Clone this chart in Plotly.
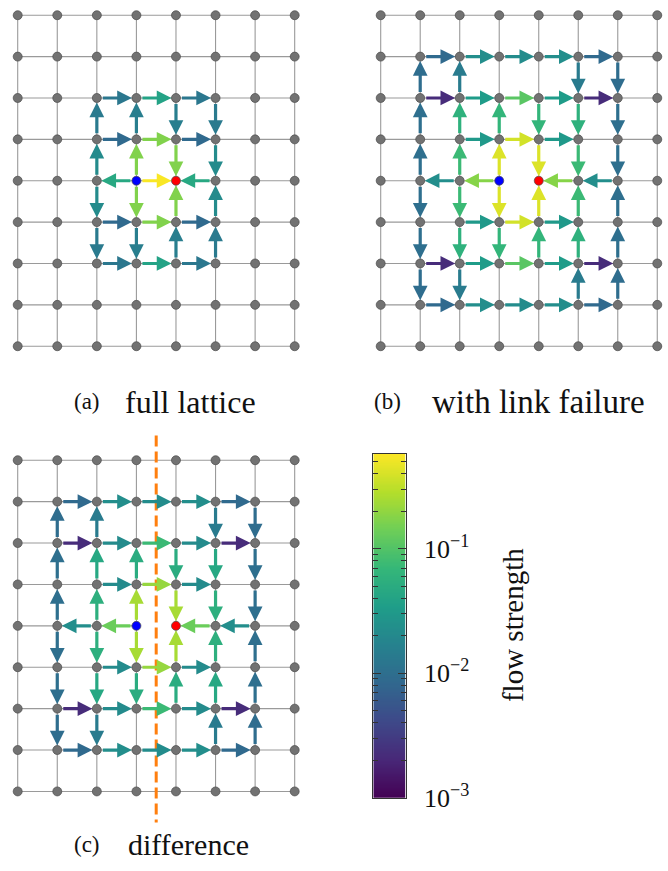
import numpy as np
import plotly.graph_objects as go
from plotly.colors import sample_colorscale

W, H = 668, 871

# ---------------- data ----------------
N_COLS, N_ROWS = 8, 9
SOURCE = (3, 4)          # (column, row from top)
SINK = (4, 4)
FAILED_LINK = (3, 4, 4, 4)
CBAR_MIN, CBAR_MAX = 1e-3, 0.58

# directed edges (c_from, r_from, c_to, r_to) and their flow strengths
edges_a = [
    (2, 2, 3, 2), (3, 2, 4, 2), (4, 2, 5, 2),
    (2, 3, 2, 2), (3, 3, 3, 2), (4, 2, 4, 3), (5, 2, 5, 3),
    (2, 3, 3, 3), (3, 3, 4, 3), (4, 3, 5, 3),
    (2, 4, 2, 3), (3, 4, 3, 3), (4, 3, 4, 4), (5, 3, 5, 4),
    (3, 4, 2, 4), (3, 4, 4, 4), (5, 4, 4, 4),
    (2, 4, 2, 5), (3, 4, 3, 5), (4, 5, 4, 4), (5, 5, 5, 4),
    (2, 5, 3, 5), (3, 5, 4, 5), (4, 5, 5, 5),
    (2, 5, 2, 6), (3, 5, 3, 6), (4, 6, 4, 5), (5, 6, 5, 5),
    (2, 6, 3, 6), (3, 6, 4, 6), (4, 6, 5, 6),
]
flow_a = [
    0.0125, 0.040, 0.0125,
    0.0135, 0.015, 0.015, 0.0135,
    0.0087, 0.17, 0.0087,
    0.021, 0.17, 0.17, 0.021,
    0.046, 0.56, 0.046,
    0.021, 0.17, 0.17, 0.021,
    0.0087, 0.17, 0.0087,
    0.0135, 0.015, 0.015, 0.0135,
    0.0125, 0.040, 0.0125,
]

edges_bc = [
    (1, 1, 2, 1), (2, 1, 3, 1), (3, 1, 4, 1), (4, 1, 5, 1), (5, 1, 6, 1),
    (1, 2, 1, 1), (2, 2, 2, 1), (5, 1, 5, 2), (6, 1, 6, 2),
    (1, 2, 2, 2), (2, 2, 3, 2), (3, 2, 4, 2), (4, 2, 5, 2), (5, 2, 6, 2),
    (1, 3, 1, 2), (2, 3, 2, 2), (3, 3, 3, 2), (4, 2, 4, 3), (5, 2, 5, 3), (6, 2, 6, 3),
    (2, 3, 3, 3), (3, 3, 4, 3), (4, 3, 5, 3),
    (1, 4, 1, 3), (2, 4, 2, 3), (3, 4, 3, 3), (4, 3, 4, 4), (5, 3, 5, 4), (6, 3, 6, 4),
    (2, 4, 1, 4), (3, 4, 2, 4), (5, 4, 4, 4), (6, 4, 5, 4),
    (1, 4, 1, 5), (2, 4, 2, 5), (3, 4, 3, 5), (4, 5, 4, 4), (5, 5, 5, 4), (6, 5, 6, 4),
    (2, 5, 3, 5), (3, 5, 4, 5), (4, 5, 5, 5),
    (1, 5, 1, 6), (2, 5, 2, 6), (3, 5, 3, 6), (4, 6, 4, 5), (5, 6, 5, 5), (6, 6, 6, 5),
    (1, 6, 2, 6), (2, 6, 3, 6), (3, 6, 4, 6), (4, 6, 5, 6), (5, 6, 6, 6),
    (1, 6, 1, 7), (2, 6, 2, 7), (5, 7, 5, 6), (6, 7, 6, 6),
    (1, 7, 2, 7), (2, 7, 3, 7), (3, 7, 4, 7), (4, 7, 5, 7), (5, 7, 6, 7),
]
flow_b = [
    0.0088, 0.023, 0.022, 0.023, 0.0088,
    0.0095, 0.014, 0.014, 0.0095,
    0.0022, 0.033, 0.11, 0.033, 0.0022,
    0.010, 0.058, 0.066, 0.066, 0.058, 0.010,
    0.030, 0.38, 0.030,
    0.010, 0.075, 0.42, 0.42, 0.075, 0.010,
    0.023, 0.18, 0.18, 0.023,
    0.010, 0.075, 0.42, 0.42, 0.075, 0.010,
    0.030, 0.38, 0.030,
    0.010, 0.058, 0.066, 0.066, 0.058, 0.010,
    0.0022, 0.033, 0.11, 0.033, 0.0022,
    0.0095, 0.014, 0.014, 0.0095,
    0.0088, 0.023, 0.022, 0.023, 0.0088,
]
flow_c = [
    0.0088, 0.023, 0.022, 0.023, 0.0088,
    0.0095, 0.014, 0.014, 0.0095,
    0.0022, 0.021, 0.075, 0.021, 0.0022,
    0.010, 0.045, 0.051, 0.051, 0.045, 0.010,
    0.021, 0.21, 0.021,
    0.010, 0.055, 0.25, 0.25, 0.055, 0.010,
    0.023, 0.135, 0.135, 0.023,
    0.010, 0.055, 0.25, 0.25, 0.055, 0.010,
    0.021, 0.21, 0.021,
    0.010, 0.045, 0.051, 0.051, 0.045, 0.010,
    0.0022, 0.021, 0.075, 0.021, 0.0022,
    0.0095, 0.014, 0.014, 0.0095,
    0.0088, 0.023, 0.022, 0.023, 0.0088,
]

captions = [("(a)", "full lattice"), ("(b)", "with link failure"), ("(c)", "difference")]
cbar_title = "flow strength"

# ---------------- styling / layout ----------------
SERIF = "Liberation Serif, Times New Roman, serif"
GRID_COLOR = "#9a9a9a"
NODE_COLOR = "#727272"
NODE_EDGE = "#4a4a4a"
NODE_SIZE = 9
L = np.log10(CBAR_MAX) - np.log10(CBAR_MIN)


def flow_color(v):
    t = (np.log10(v) - np.log10(CBAR_MIN)) / L
    t = float(min(max(t, 0.0), 1.0))
    return sample_colorscale("Viridis", [t])[0]


def px_axis_x(p0, p1, col0_px, spacing):
    dom = [p0 / W, p1 / W]
    rng = [(p0 - col0_px) / spacing, (p1 - col0_px) / spacing]
    return dom, rng


def px_axis_y(p0, p1, row0_px, spacing):
    # p0 top pixel, p1 bottom pixel; rows increase downward
    dom = [1 - p1 / H, 1 - p0 / H]
    rng = [(p1 - row0_px) / spacing, (p0 - row0_px) / spacing]
    return dom, rng


panels = [
    dict(ax="", xbox=(0, 330), col0=17.7, dx=39.57, ybox=(0, 380), row0=15.5, dy=42.1,
         edges=edges_a, flows=flow_a, failed=False, cut=False),
    dict(ax="2", xbox=(340, 668), col0=380.7, dx=39.51, ybox=(0, 380), row0=15.5, dy=42.1,
         edges=edges_bc, flows=flow_b, failed=True, cut=False),
    dict(ax="3", xbox=(0, 330), col0=17.7, dx=39.57, ybox=(440, 871), row0=468.3, dy=42.125,
         edges=edges_bc, flows=flow_c, failed=True, cut=True),
]

fig = go.Figure()
annotations = []
shapes = []
layout_axes = {}

for p in panels:
    xa = "x" + p["ax"]
    ya = "y" + p["ax"]
    xdom, xrng = px_axis_x(*p["xbox"], p["col0"], p["dx"])
    ydom, yrng = px_axis_y(*p["ybox"], p["row0"], p["dy"])
    axkw = dict(visible=False, showgrid=False, zeroline=False, fixedrange=True)
    layout_axes["xaxis" + p["ax"]] = dict(domain=xdom, range=xrng, anchor=ya, **axkw)
    layout_axes["yaxis" + p["ax"]] = dict(domain=ydom, range=yrng, anchor=xa, **axkw)

    # lattice links
    lx, ly = [], []
    for r in range(N_ROWS):
        for c in range(N_COLS - 1):
            if p["failed"] and (c, r, c + 1, r) == FAILED_LINK:
                continue
            lx += [c, c + 1, None]
            ly += [r, r, None]
    for c in range(N_COLS):
        for r in range(N_ROWS - 1):
            lx += [c, c, None]
            ly += [r, r + 1, None]
    fig.add_trace(go.Scatter(x=lx, y=ly, mode="lines", xaxis=xa, yaxis=ya,
                             line=dict(color=GRID_COLOR, width=1.1),
                             hoverinfo="skip", showlegend=False))

    # nodes
    nx, ny, ncol = [], [], []
    for r in range(N_ROWS):
        for c in range(N_COLS):
            nx.append(c)
            ny.append(r)
            if (c, r) == SOURCE:
                ncol.append("#0000ff")
            elif (c, r) == SINK:
                ncol.append("#ff0000")
            else:
                ncol.append(NODE_COLOR)
    fig.add_trace(go.Scatter(x=nx, y=ny, mode="markers", xaxis=xa, yaxis=ya,
                             marker=dict(size=NODE_SIZE, color=ncol,
                                         line=dict(color=NODE_EDGE, width=0.7)),
                             hoverinfo="skip", showlegend=False))

    # flow arrows
    for (c0, r0, c1, r1), v in zip(p["edges"], p["flows"]):
        annotations.append(dict(
            x=c1, y=r1, ax=c0, ay=r0, xref=xa, yref=ya, axref=xa, ayref=ya,
            text="", showarrow=True, arrowhead=2, arrowsize=0.92, arrowwidth=3.2,
            arrowcolor=flow_color(v), standoff=4.5, startstandoff=4.5,
        ))

    if p["cut"]:
        xm = (SOURCE[0] + SINK[0]) / 2
        shapes.append(dict(type="line", xref=xa, yref=ya, x0=xm, x1=xm, y0=-0.6, y1=8.75,
                           line=dict(color="#ff7f0e", width=3, dash="11px,5px"), layer="above"))

# ---------------- colour bar (heatmap on a log axis) ----------------
cb_vals = np.logspace(np.log10(CBAR_MIN), np.log10(CBAR_MAX), 300)
fig.add_trace(go.Heatmap(
    x=[0.25, 0.75], y=cb_vals, z=np.column_stack([np.log10(cb_vals)] * 2),
    colorscale="Viridis", zmin=np.log10(CBAR_MIN), zmax=np.log10(CBAR_MAX),
    showscale=False, xaxis="x4", yaxis="y4", hoverinfo="skip",
))
cb_x0, cb_x1, cb_y0, cb_y1 = 373.3, 405.7, 461.7, 811.7
major = [1e-3, 1e-2, 1e-1]
minor = [k * 10.0 ** e for e in (-3, -2, -1) for k in range(2, 10) if k * 10.0 ** e <= CBAR_MAX]
layout_axes["xaxis4"] = dict(domain=[cb_x0 / W, cb_x1 / W], range=[0, 1], anchor="y4",
                             showticklabels=False, ticks="", showgrid=False, zeroline=False,
                             showline=True, linecolor="#333333", linewidth=1, mirror=True,
                             fixedrange=True)
layout_axes["yaxis4"] = dict(domain=[1 - cb_y1 / H, 1 - cb_y0 / H], anchor="x4", type="log",
                             range=[np.log10(CBAR_MIN), np.log10(CBAR_MAX)], side="right",
                             showgrid=False, zeroline=False, showline=True, linecolor="#333333",
                             linewidth=1, mirror="ticks", ticks="inside", ticklen=8, tickwidth=1,
                             tickcolor="#333333", tickmode="array", tickvals=major,
                             ticktext=["10<sup>−3</sup>", "10<sup>−2</sup>", "10<sup>−1</sup>"],
                             tickfont=dict(family=SERIF, size=26, color="#111111"),
                             ticklabelstandoff=12,
                             minor=dict(tickmode="array", tickvals=minor, ticks="inside",
                                        ticklen=5, tickwidth=1, tickcolor="#333333", showgrid=False),
                             fixedrange=True)

annotations.append(dict(text=cbar_title, x=513 / W, y=1 - 636 / H, xref="paper", yref="paper",
                        showarrow=False, textangle=-90, xanchor="center", yanchor="middle",
                        font=dict(family=SERIF, size=29, color="#111111")))

# captions
cap_pos = [((87, 409), (190, 409)), ((387, 409), (538, 409)), ((87, 859), (188, 859))]
cap_size = [32, 33, 30]
for (lab, txt), ((lx_, ly_), (tx_, ty_)), fs in zip(captions, cap_pos, cap_size):
    annotations.append(dict(text=lab, x=lx_ / W, y=1 - ly_ / H, xref="paper", yref="paper",
                            showarrow=False, xanchor="center", yanchor="middle",
                            font=dict(family=SERIF, size=23, color="#111111")))
    annotations.append(dict(text=txt, x=tx_ / W, y=1 - ty_ / H, xref="paper", yref="paper",
                            showarrow=False, xanchor="center", yanchor="middle",
                            font=dict(family=SERIF, size=fs, color="#111111")))

fig.update_layout(width=W, height=H, margin=dict(l=0, r=0, t=0, b=0),
                  paper_bgcolor="white", plot_bgcolor="rgba(0,0,0,0)",
                  showlegend=False, annotations=annotations, shapes=shapes, **layout_axes)

page_fix = (
    "document.documentElement.style.margin='0';"
    "document.body.style.margin='0';document.body.style.overflow='hidden';"
)
fig.write_html("out.html", config={"displayModeBar": False}, post_script=page_fix)
